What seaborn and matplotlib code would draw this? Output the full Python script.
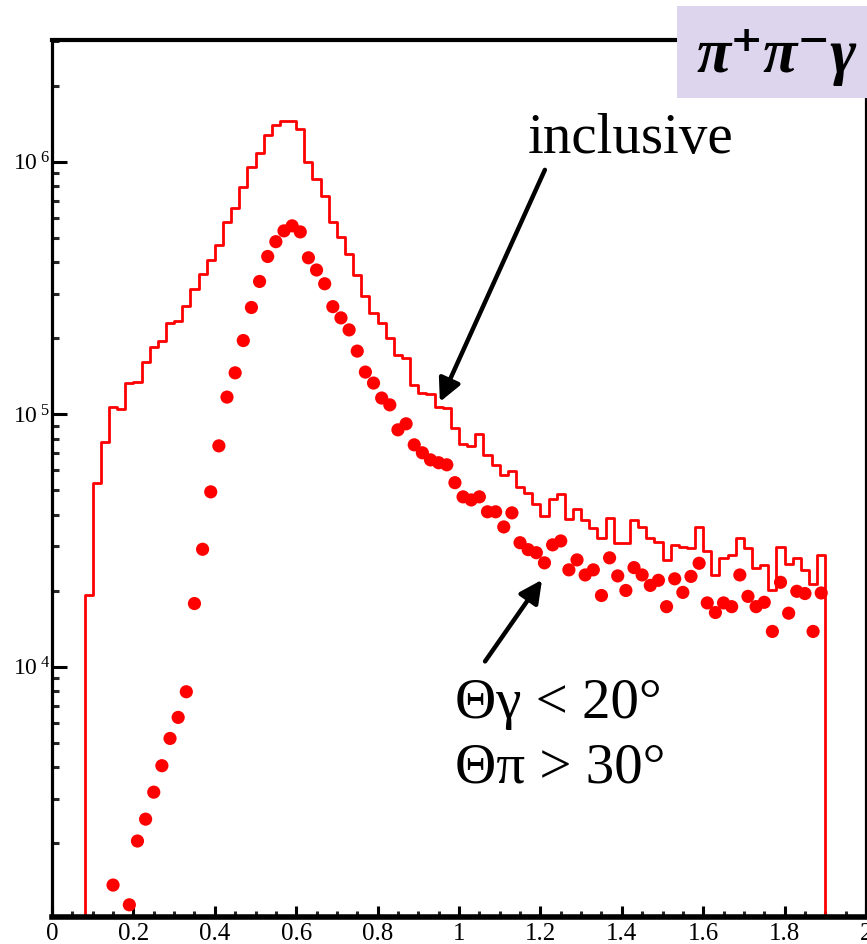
import numpy as np
import pandas as pd
import matplotlib
matplotlib.use("Agg")
import matplotlib.pyplot as plt
from matplotlib.patches import Rectangle
from matplotlib.ticker import FixedLocator, FixedFormatter, MultipleLocator, LogLocator, NullFormatter
import seaborn as sns

# ---- inclusive spectrum: 0.02-wide bins from 0.08 to 1.90 ----
bin_width = 0.02
inc_lo = 0.08
inc_counts = [
    19300, 53600, 77800, 107000, 105000, 133000, 134000, 161000, 185000, 195000,
    230000, 235000, 269000, 314000, 360000, 409000, 469000, 578000, 657000, 796000,
    955000, 1086000, 1280000, 1402000, 1453000, 1453000, 1352000, 1000000, 857000, 733000,
    578000, 505000, 432000, 357000, 294000, 252000, 230000, 201000, 172000, 167000,
    131000, 122000, 120000, 107000, 106000, 88500, 76400, 75000, 83700, 69100,
    63100, 57600, 59700, 51600, 48900, 44200, 39600, 46300, 48400, 38500,
    42200, 38200, 35500, 32400, 38900, 31000, 31000, 38200, 35800, 32400,
    31300, 26500, 30400, 29900, 29600, 35800, 28800, 23100, 27000, 27800,
    32400, 29600, 24700, 25400, 20200, 29900, 25600, 27000, 24200, 21300,
    27800,
]

# ---- selected sample (photon < 20 deg, pions > 30 deg) ----
sel_x = [
    0.15, 0.19, 0.21, 0.23, 0.25, 0.27, 0.29, 0.31, 0.33, 0.35,
    0.37, 0.39, 0.41, 0.43, 0.45, 0.47, 0.49, 0.51, 0.53, 0.55,
    0.57, 0.59, 0.61, 0.63, 0.65, 0.67, 0.69, 0.71, 0.73, 0.75,
    0.77, 0.79, 0.81, 0.83, 0.85, 0.87, 0.89, 0.91, 0.93, 0.95,
    0.97, 0.99, 1.01, 1.03, 1.05, 1.07, 1.09, 1.11, 1.13, 1.15,
    1.17, 1.19, 1.21, 1.23, 1.25, 1.27, 1.29, 1.31, 1.33, 1.35,
    1.37, 1.39, 1.41, 1.43, 1.45, 1.47, 1.49, 1.51, 1.53, 1.55,
    1.57, 1.59, 1.61, 1.63, 1.65, 1.67, 1.69, 1.71, 1.73, 1.75,
    1.77, 1.79, 1.81, 1.83, 1.85, 1.87, 1.89,
]
sel_y = [
    1365, 1140, 2040, 2490, 3185, 4055, 5200, 6300, 7960, 17800,
    29200, 49300, 75000, 117000, 146000, 196000, 265000, 336000, 422000, 483000,
    533000, 558000, 528000, 417000, 373000, 329000, 267000, 241000, 216000, 178000,
    147000, 133000, 116000, 109000, 86800, 91700, 75700, 70400, 66000, 64300,
    63100, 53600, 47100, 45800, 47100, 41100, 41100, 35800, 40700, 31000,
    29100, 28300, 25800, 30400, 31500, 24200, 26500, 23100, 24200, 19150,
    27000, 22900, 20050, 24700, 23100, 21000, 22000, 17300, 22300, 19700,
    22800, 25700, 17900, 16400, 17900, 17300, 23100, 19000, 17300, 18000,
    13800, 21600, 16300, 19900, 19500, 13800, 19600,
]

x_ticks = [0, 0.2, 0.4, 0.6, 0.8, 1.0, 1.2, 1.4, 1.6, 1.8, 2.0]
x_ticklabels = ["0", "0.2", "0.4", "0.6", "0.8", "1", "1.2", "1.4", "1.6", "1.8", "2"]
y_ticks = [1e4, 1e5, 1e6]
y_ticklabels = [r"$10^{\;4}$", r"$10^{\;5}$", r"$10^{\;6}$"]

RED = "#ff0000"
SERIF = ["Liberation Serif", "DejaVu Serif"]

sns.set_theme(style="white")
plt.rcParams["font.family"] = SERIF
plt.rcParams["mathtext.fontset"] = "custom"
plt.rcParams["mathtext.rm"] = "Liberation Serif"
plt.rcParams["mathtext.it"] = "Liberation Serif:italic"
plt.rcParams["mathtext.bf"] = "Liberation Serif:bold"

# empty bins on either side close the outline down to the axis
n_bins = len(inc_counts)
edges = [round(inc_lo + bin_width * i, 4) for i in range(-1, n_bins + 2)]
counts = [0] + inc_counts + [0]
centers = [(a + b) / 2 for a, b in zip(edges[:-1], edges[1:])]
inc_df = pd.DataFrame({"mass": centers, "events": counts})
sel_df = pd.DataFrame({"mass": sel_x, "events": sel_y})

fig = plt.figure(figsize=(8.67, 9.44), dpi=100)
ax = fig.add_axes([52 / 867, 1 - 917 / 944, (866 - 52) / 867, (917 - 40) / 944])

sns.histplot(data=inc_df, x="mass", weights="events", bins=edges,
             element="step", fill=False, color=RED, linewidth=2.0, ax=ax)
sns.scatterplot(data=sel_df, x="mass", y="events", color=RED, s=90,
                marker="o", edgecolor="none", linewidth=0, ax=ax, zorder=3)

ax.set_yscale("log", nonpositive="clip")
ax.set_xlim(0, 2)
ax.set_ylim(1020, 3.04e6)
ax.set_xlabel("")
ax.set_ylabel("")

ax.xaxis.set_major_locator(FixedLocator(x_ticks))
ax.xaxis.set_major_formatter(FixedFormatter(x_ticklabels))
ax.xaxis.set_minor_locator(MultipleLocator(0.05))
ax.yaxis.set_major_locator(FixedLocator(y_ticks))
ax.yaxis.set_major_formatter(FixedFormatter(y_ticklabels))
ax.yaxis.set_minor_locator(LogLocator(base=10, subs=np.arange(2, 10), numticks=20))
ax.yaxis.set_minor_formatter(NullFormatter())

ax.tick_params(axis="x", which="major", direction="in", length=8, width=2.2,
               labelsize=18, pad=4.5, colors="black")
ax.tick_params(axis="x", which="minor", direction="in", length=4.3, width=2.2)
ax.tick_params(axis="y", which="major", direction="in", length=11, width=2.2,
               labelsize=17, pad=1.5, colors="black")
ax.tick_params(axis="y", which="minor", direction="in", length=5, width=2.2)
ax.tick_params(top=False, right=False, which="both", bottom=True, left=True)

for side, lw in {"left": 2.3, "top": 3.0, "bottom": 4.0, "right": 2.3}.items():
    ax.spines[side].set_visible(True)
    ax.spines[side].set_color("black")
    ax.spines[side].set_linewidth(lw)

# annotations
arrow_kw = dict(arrowstyle="-|>", color="black", lw=3.2, mutation_scale=34,
                shrinkA=0, shrinkB=0)
ax.annotate("", xy=(0.953, 1.12e5), xytext=(1.211, 9.3e5),
            arrowprops=arrow_kw)
ax.annotate("", xy=(1.204, 2.21e4), xytext=(1.064, 1.05e4),
            arrowprops=arrow_kw)
ax.text(1.170, 1.086e6, "inclusive", fontsize=41, color="black",
        ha="left", va="baseline")
ax.text(0.990, 6280, "Θγ < 20°", fontsize=41, color="black",
        ha="left", va="baseline")
ax.text(0.990, 3470, "Θπ > 30°", fontsize=41, color="black",
        ha="left", va="baseline")

# channel label in the top-right corner
fig.add_artist(Rectangle((677 / 867, 1 - 98 / 944), 190 / 867, 92 / 944,
                         transform=fig.transFigure, facecolor="#ddd5ee",
                         edgecolor="none", zorder=5))
fig.text(777 / 867, 1 - 57 / 944, "π⁺π⁻γ", fontsize=45, fontweight="bold",
         fontstyle="italic", ha="center", va="center", color="black",
         family=SERIF, zorder=6)

fig.savefig("out.png", dpi=100)
